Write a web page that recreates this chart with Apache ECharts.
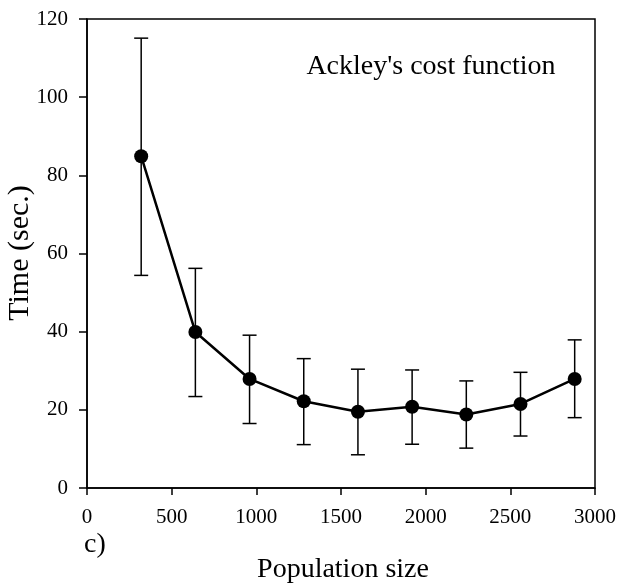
<!DOCTYPE html>
<html>
<head>
<meta charset="utf-8">
<script src="https://cdn.jsdelivr.net/npm/echarts@6/dist/echarts.min.js"></script>
<style>
  html, body { margin: 0; padding: 0; background: #fff; }
  #chart { width: 621px; height: 585px; }
</style>
</head>
<body>
<div id="chart"></div>
<script>
// Population sizes and mean run time with lower/upper error limits
const populationSizes = [320, 640, 960, 1280, 1600, 1920, 2240, 2560, 2880];
const meanTimes      = [84.9, 39.9, 27.9, 22.2, 19.5, 20.8, 18.8, 21.5, 27.9];
const lowerLimits    = [54.4, 23.4, 16.5, 11.1, 8.5, 11.2, 10.2, 13.3, 18.0];
const upperLimits    = [115.1, 56.2, 39.1, 33.1, 30.4, 30.2, 27.4, 29.6, 37.9];

const xTicks = { min: 0, max: 3000, interval: 500 };
const yTicks = { min: 0, max: 120, interval: 20 };

const serif = "'Liberation Serif', 'Times New Roman', serif";

const chart = echarts.init(document.getElementById('chart'), null, { renderer: 'canvas' });

const lineData = populationSizes.map((x, i) => [x, meanTimes[i]]);
const errData = populationSizes.map((x, i) => [x, lowerLimits[i], upperLimits[i]]);

chart.setOption({
  animation: false,
  backgroundColor: '#fff',
  grid: {
    left: 87, right: 26, top: 19, bottom: 97,
    show: true, borderColor: '#000', borderWidth: 1.5, backgroundColor: 'transparent'
  },
  xAxis: {
    type: 'value',
    min: xTicks.min, max: xTicks.max, interval: xTicks.interval,
    axisLine: { show: true, lineStyle: { color: '#000', width: 1.5 } },
    axisTick: { show: true, inside: false, length: 7, lineStyle: { color: '#000', width: 1.5 } },
    axisLabel: { color: '#000', fontFamily: serif, fontSize: 21, margin: 19, formatter: v => String(v) },
    splitLine: { show: false }
  },
  yAxis: {
    type: 'value',
    min: yTicks.min, max: yTicks.max, interval: yTicks.interval,
    axisLine: { show: true, lineStyle: { color: '#000', width: 1.5 } },
    axisTick: { show: true, inside: false, length: 8, lineStyle: { color: '#000', width: 1.5 } },
    axisLabel: { color: '#000', fontFamily: serif, fontSize: 21, margin: 19, formatter: v => String(v) },
    splitLine: { show: false }
  },
  series: [
    {
      type: 'custom',
      data: errData,
      z: 1,
      renderItem: function (params, api) {
        const x = api.value(0);
        const lo = api.coord([x, api.value(1)]);
        const hi = api.coord([x, api.value(2)]);
        const cap = 7;
        const style = { stroke: '#000', lineWidth: 1.5 };
        return {
          type: 'group',
          children: [
            { type: 'line', shape: { x1: lo[0], y1: lo[1], x2: hi[0], y2: hi[1] }, style },
            { type: 'line', shape: { x1: hi[0] - cap, y1: hi[1], x2: hi[0] + cap, y2: hi[1] }, style },
            { type: 'line', shape: { x1: lo[0] - cap, y1: lo[1], x2: lo[0] + cap, y2: lo[1] }, style }
          ]
        };
      }
    },
    {
      type: 'line',
      data: lineData,
      z: 2,
      symbol: 'circle',
      symbolSize: 14,
      lineStyle: { color: '#000', width: 2.5 },
      itemStyle: { color: '#000' }
    }
  ],
  graphic: [
    {
      type: 'text', x: 431, y: 67,
      style: { text: "Ackley's cost function", font: "28px " + serif, fill: '#000', align: 'center', verticalAlign: 'middle' }
    },
    {
      type: 'text', x: 20, y: 253, rotation: Math.PI / 2,
      style: { text: 'Time (sec.)', font: "30px " + serif, fill: '#000', align: 'center', verticalAlign: 'middle' }
    },
    {
      type: 'text', x: 343, y: 570,
      style: { text: 'Population size', font: "28px " + serif, fill: '#000', align: 'center', verticalAlign: 'middle' }
    },
    {
      type: 'text', x: 84, y: 545,
      style: { text: 'c)', font: "28px " + serif, fill: '#000', align: 'left', verticalAlign: 'middle' }
    }
  ]
});
</script>
</body>
</html>
